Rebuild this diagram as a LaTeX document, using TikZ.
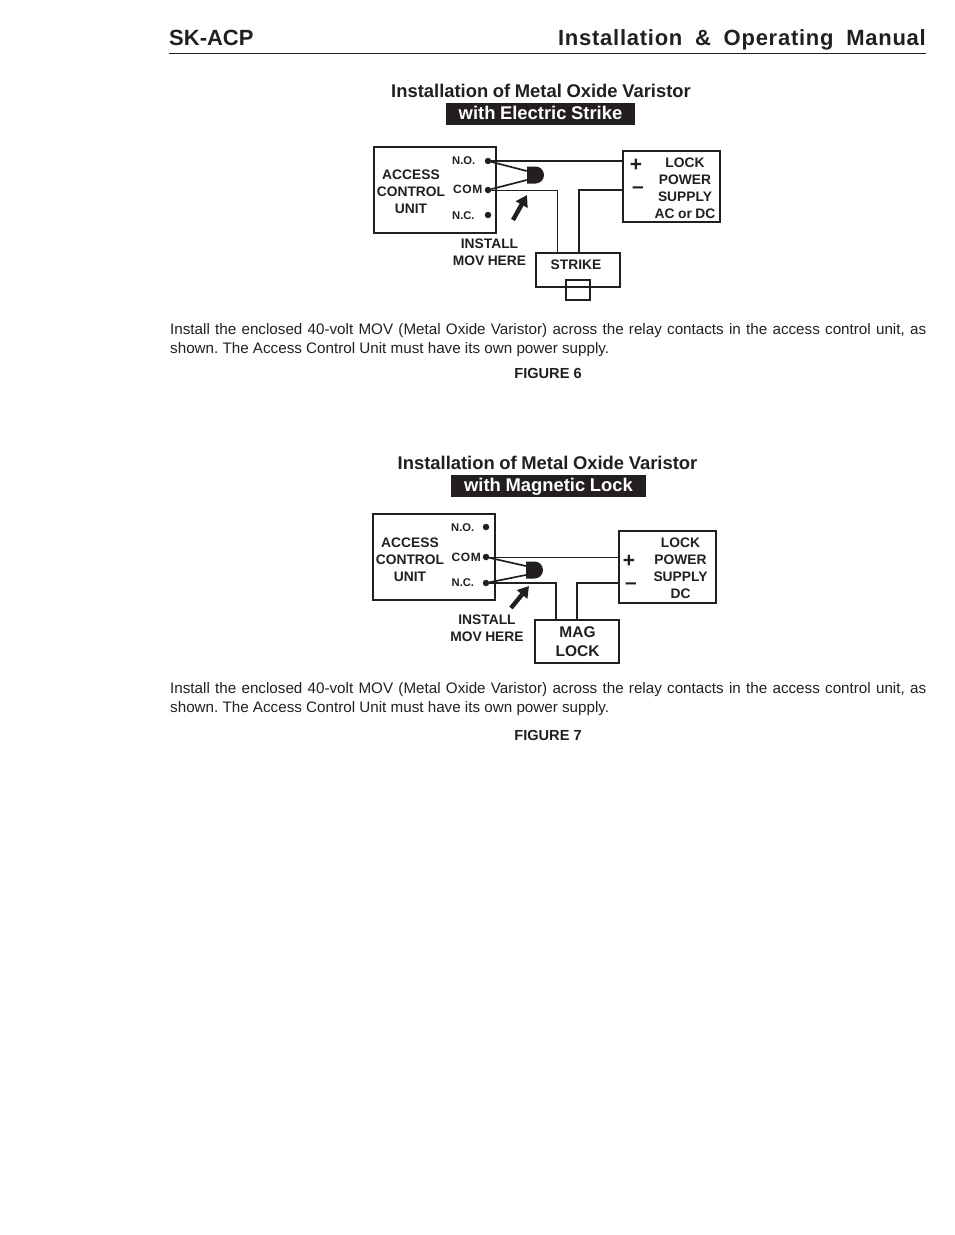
\documentclass[tikz,border=0pt]{standalone}
\usepackage{fontspec}
\setmainfont{Liberation Sans}
\newfontfamily\tightfont[WordSpace=0.6]{Liberation Sans}
\newfontfamily\titlefont[WordSpace=0.9]{Liberation Sans}
\newfontfamily\headfont[LetterSpace=3.4,WordSpace=1.85]{Liberation Sans}
\usetikzlibrary{arrows.meta, positioning, shapes.misc}
\definecolor{ink}{HTML}{231F20}
\tikzstyle{block} = [draw=ink, fill=white, rectangle, line width=1.2pt, inner sep=0pt]
\tikzstyle{term} = [circle, fill=ink, inner sep=0pt, minimum size=6.5pt]
\tikzstyle{mov} = [rounded rectangle, rounded rectangle west arc=none, fill=ink, inner sep=0pt, minimum width=15pt, minimum height=17pt]
\tikzstyle{wire} = [draw=ink, line width=1pt]
\tikzstyle{thickwire} = [draw=ink, line width=1.7pt]
\tikzstyle{lead} = [draw=ink, line width=1.7pt]
\tikzstyle{pointer} = [draw=ink, line width=4.4pt, -{Triangle[length=11pt, width=13pt]}]
\tikzstyle{label} = [text=ink, font=\tightfont\bfseries\fontsize{13.8}{17}\selectfont, align=center, inner sep=0pt]
\tikzstyle{small} = [text=ink, font=\bfseries\fontsize{11.2}{14}\selectfont, inner sep=0pt, anchor=base west]
\tikzstyle{comsmall} = [text=ink, font=\bfseries\fontsize{12}{14}\selectfont\addfontfeature{LetterSpace=5}, inner sep=0pt, anchor=base west]
\tikzstyle{sign} = [text=ink, font=\bfseries\fontsize{21}{21}\selectfont, inner sep=0pt]
\tikzstyle{heading} = [text=ink, font=\titlefont\bfseries\fontsize{18.4}{22}\selectfont, inner sep=0pt, anchor=base]
\tikzstyle{banner} = [fill=ink, text=white, font=\titlefont\bfseries\fontsize{18.4}{22}\selectfont, inner sep=0pt, minimum height=22pt, text height=13.5pt, text depth=3.5pt]
\tikzstyle{para} = [text=ink, font=\fontsize{15.2}{19}\selectfont\frenchspacing, inner sep=0pt, anchor=north west, text width=756pt, align=justify]
\tikzstyle{figcap} = [text=ink, font=\bfseries\fontsize{14.6}{17}\selectfont, inner sep=0pt, anchor=base]

\begin{document}
\begin{tikzpicture}[x=1pt, y=-1pt]
  \useasboundingbox (0,0) rectangle (954,1235);

  \node[text=ink, font=\bfseries\fontsize{22}{26}\selectfont, inner sep=0pt, anchor=base west] (brand) at (169,45) {SK-ACP};
  \node[text=ink, font=\headfont\bfseries\fontsize{22}{26}\selectfont, inner sep=0pt, anchor=base east] (manual) at (926,45) {Installation \& Operating Manual};
  \coordinate (ruleL) at (169,53.5);
  \coordinate (ruleR) at (926,53.5);
  \draw[draw=ink, line width=.8pt] (ruleL) -- (ruleR);

  \node[heading] (title1) at (541,97) {Installation of Metal Oxide Varistor};
  \node[banner, minimum width=189pt] (sub1) at (540.5,114) {with Electric Strike};

  \node[block, minimum width=122pt, minimum height=86pt] (acu1) at (435,190) {};
  \node[block, minimum width=97pt, minimum height=71pt] (psu1) at (671.5,186.5) {};
  \node[block, minimum width=84pt, minimum height=34pt] (strike) at (578,270) {};
  \node[block, fill=none, minimum width=24pt, minimum height=20pt] (bolt) at (578,290) {};

  \node[term] (no1) at (488,161) {};
  \node[term] (com1) at (488,190) {};
  \node[term] (nc1) at (488,215) {};
  \node[mov] (mov1) at (535.5,175) {};

  \node[label] (acutext1) at (411,192) {ACCESS\\CONTROL\\UNIT};
  \node[small] (nolab1) at (452,164) {N.O.};
  \node[comsmall] (comlab1) at (453,193.5) {COM};
  \node[small] (nclab1) at (452,219) {N.C.};
  \node[label] (psutext1) at (685,188.5) {LOCK\\POWER\\SUPPLY\\AC or DC};
  \node[sign] (plus1) at (636,165.5) {+};
  \node[sign] (minus1) at (638,190.5) {--};
  \node[label] (here1) at (489.5,252.5) {INSTALL\\MOV HERE};
  \node[label, anchor=base] (striketext) at (576,269.5) {STRIKE};

  \coordinate (tail1) at (513,220);
  \coordinate (tip1) at (527,195);

  \draw[thickwire] (no1) -- (no1 -| psu1.west);
  \draw[wire] (com1) -| ([xshift=-21pt]strike.north);
  \draw[thickwire] (psu1.west |- com1) -| ([xshift=1pt]strike.north);
  \draw[lead] (no1) -- ([yshift=4pt]mov1.west);
  \draw[lead] (com1) -- ([yshift=-5pt]mov1.west);
  \draw[pointer] (tail1) -- (tip1);

  \node[para] (body1) at (170,323) {Install the enclosed 40-volt MOV (Metal Oxide Varistor) across the relay contacts in the access control unit, as shown. The Access Control Unit must have its own power supply.};
  \node[figcap] (fig6) at (548,378) {FIGURE 6};

  \node[heading] (title2) at (547.5,469) {Installation of Metal Oxide Varistor};
  \node[banner, minimum width=195pt] (sub2) at (548.5,486) {with Magnetic Lock};

  \node[block, minimum width=122pt, minimum height=86pt] (acu2) at (434,557) {};
  \node[block, minimum width=97pt, minimum height=72pt] (psu2) at (667.5,567) {};
  \node[block, minimum width=84pt, minimum height=43pt] (maglock) at (577,641.5) {};

  \node[term] (no2) at (486,527) {};
  \node[term] (com2) at (486,557) {};
  \node[term] (nc2) at (486,583) {};
  \node[mov] (mov2) at (534.5,570) {};

  \node[label] (acutext2) at (410,560) {ACCESS\\CONTROL\\UNIT};
  \node[small] (nolab2) at (451,531) {N.O.};
  \node[comsmall] (comlab2) at (451.5,561) {COM};
  \node[small] (nclab2) at (451.5,586) {N.C.};
  \node[label] (psutext2) at (680.5,568.5) {LOCK\\POWER\\SUPPLY\\DC};
  \node[sign] (plus2) at (629,561) {+};
  \node[sign] (minus2) at (631,586) {--};
  \node[label] (here2) at (487,628.5) {INSTALL\\MOV HERE};
  \node[label, font=\bfseries\fontsize{15.5}{19}\selectfont] (magtext) at (577.5,642) {MAG\\LOCK};

  \coordinate (tail2) at (511,608);
  \coordinate (tip2) at (529,586);

  \draw[wire] (com2) -- (com2 -| psu2.west);
  \draw[thickwire] (nc2) -| ([xshift=-21pt]maglock.north);
  \draw[thickwire] (psu2.west |- nc2) -| (maglock.north);
  \draw[lead] (com2) -- ([yshift=4pt]mov2.west);
  \draw[lead] (nc2) -- ([yshift=-5pt]mov2.west);
  \draw[pointer] (tail2) -- (tip2);

  \node[para] (body2) at (170,682) {Install the enclosed 40-volt MOV (Metal Oxide Varistor) across the relay contacts in the access control unit, as shown. The Access Control Unit must have its own power supply.};
  \node[figcap] (fig7) at (548,740) {FIGURE 7};
\end{tikzpicture}
\end{document}
